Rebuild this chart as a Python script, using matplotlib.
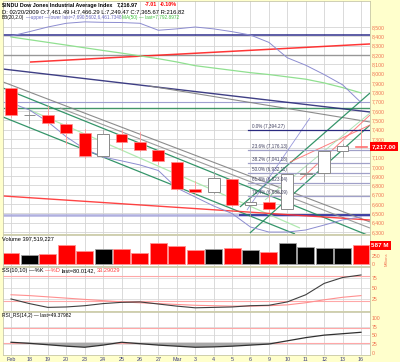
import numpy as np
import matplotlib
matplotlib.use('Agg')
import matplotlib.pyplot as plt
from matplotlib.patches import Rectangle

W, H = 400, 362
FONT = ['Liberation Sans', 'DejaVu Sans']
AX_COL = '#f07050'
GRID = '#d4d4d4'

# ---- data ----
DATES = ['Feb', '18', '19', '20', '23', '24', '25', '26', '27', 'Mar',
         '3', '4', '5', '6', '9', '10', '11', '12', '13', '16']
OPEN = [7845.6, 7552.6, 7555.2, 7461.5, 7366.0, 7115.3, 7349.6, 7269.1, 7181.0, 7056.5,
        6764.8, 6726.5, 6874.0, 6595.2, 6625.7, 6547.0, 6924.0, 6930.1, 7169.9, 7224.0]
HIGH = [7845.6, 7620.0, 7650.0, 7466.3, 7410.0, 7394.3, 7400.0, 7370.0, 7180.0, 7056.5,
        6850.0, 6960.0, 6874.0, 6680.0, 6700.0, 6930.0, 7018.0, 7170.0, 7250.0, 7416.0]
LOW = [7533.8, 7470.0, 7450.0, 7249.5, 7092.0, 7110.0, 7180.0, 7170.0, 7030.0, 6750.0,
       6705.0, 6720.0, 6580.0, 6470.0, 6517.0, 6547.0, 6880.0, 6850.0, 7110.0, 7200.0]
CLOSE = [7552.6, 7555.6, 7466.0, 7365.7, 7114.8, 7350.9, 7270.9, 7182.1, 7062.9, 6763.3,
         6726.0, 6875.8, 6594.4, 6626.9, 6547.1, 6926.5, 6930.4, 7170.1, 7224.0, 7217.0]
VOLUME = [344, 281, 312, 594, 406, 469, 469, 344, 656, 562,
          437, 469, 500, 437, 375, 656, 531, 500, 500, 587]
BB_UPPER = [8403, 8450, 8500, 8540, 8555, 8550, 8548, 8540, 8465, 8480,
            8500, 8480, 8450, 8414, 8335, 8170, 8090, 7990, 7880, 7690]
BB_LOWER = [7685, 7610, 7483, 7322, 7191, 7105, 7064, 7020, 6960, 6773,
            6676, 6580, 6499, 6354, 6300, 6300, 6322, 6375, 6430, 6462]
MA50 = [8393, 8364, 8335, 8306, 8277, 8248, 8220, 8190, 8160, 8125,
        8085, 8060, 8035, 8010, 7990, 7965, 7940, 7900, 7850, 7793]
STOCH_K = [25, 14, 5, 6, 9, 14, 17, 18, 13, 8, 4, 5, 6, 9, 10, 18, 35, 62, 76, 82]
STOCH_D = [35, 33, 30, 27, 24, 21, 18, 16, 14, 12, 10, 9, 8, 8, 9, 11, 16, 23, 29, 33]
RSI = [31, 28, 24, 20, 17, 23, 31, 27, 23, 20, 17, 18, 20, 23, 26, 35, 44, 51, 55, 59]

# user drawn lines: (day0, price0, day1, price1, colour, width)
TRENDLINES = [
    (-0.43, 8414, 19.49, 8414, '#1a1a80', 1.1),
    (-0.43, 8200, 19.49, 8200, '#909090', 1.0),
    (-0.43, 7690, 19.49, 7690, '#9a9ad0', 0.8),
    (-0.43, 7626, 19.49, 7626, '#2e8b57', 1.0),
    (-0.43, 6478, 19.49, 6478, '#a8a8dc', 1.8),
    (12.40, 6478, 19.49, 6478, '#1a1a90', 1.2),
    (1.03, 8124, 19.49, 8318, '#ff2020', 1.1),
    (-0.43, 8049, 19.49, 7588, '#2a2a78', 1.0),
    (7.50, 7867, 19.49, 7481, '#808080', 0.8),
    (-0.43, 7910, 19.49, 6408, '#808080', 0.8),
    (2.66, 7631, 19.49, 6343, '#909090', 0.8),
    (-0.43, 7845, 19.49, 6257, '#1f8a5a', 0.9),
    (-0.43, 7534, 15.42, 6279, '#1f8a5a', 0.9),
    (1.03, 7609, 15.69, 6343, '#a8e8a8', 0.9),
    (-0.43, 6687, 19.49, 6429, '#ff3030', 1.0),
    (12.43, 6569, 19.49, 7792, '#1f8a5a', 0.9),
    (12.97, 6290, 19.49, 7448, '#1f8a5a', 0.9),
    (15.69, 6858, 19.49, 7556, '#ff7070', 0.7),
    (15.15, 7051, 19.49, 7448, '#ff7070', 0.7),
    (13.79, 6644, 19.49, 7577, '#a8e0b0', 0.7),
    (12.81, 6536, 16.23, 7524, '#8c8cd8', 0.6),
]
FIB_HIGH, FIB_LOW = 7394.27, 6469.95
FIB_LEVELS = [0.0, 23.6, 38.2, 50.0, 61.8, 76.4]
FIB_START = 12.87

n = len(DATES)
days = np.arange(n)
XLIM = (-0.434, 19.49)

fig = plt.figure(figsize=(W / 100, H / 100), dpi=100)
fig.patch.set_facecolor('#ffffcc')


def panel(ytop, ybot):
    ax = fig.add_axes([3 / W, 1 - ybot / H, 367 / W, (ybot - ytop) / H])
    ax.set_facecolor('white')
    for s in ax.spines.values():
        s.set_color('#c8c8a8')
        s.set_linewidth(0.6)
    ax.set_xlim(*XLIM)
    ax.set_xticks(days)
    ax.tick_params(axis='both', length=0, pad=1.5)
    ax.yaxis.tick_right()
    ax.set_xticklabels([])
    for d in days:
        ax.axvline(d, color=GRID, lw=0.6, zorder=0)
    return ax


def right_labels(ax, ticks, labels, size=3.7):
    ax.set_yticks(ticks)
    ax.set_yticklabels(labels, fontsize=size, color=AX_COL, family=FONT)


def text_row(x_px, y_px, parts, size, weight='normal', gap=1.5):
    r = fig.canvas.get_renderer()
    x = x_px
    for s, c in parts:
        t = fig.text(x / W, 1 - y_px / H, s, color=c, fontsize=size, weight=weight,
                     va='center', ha='left', family=FONT)
        x += t.get_window_extent(renderer=r).width + gap


# ---- main price panel ----
ax = panel(1, 234)
ax.set_ylim(6279, 8779)
levels = np.arange(6300, 8501, 100)
for lv in levels:
    ax.axhline(lv, color=GRID, lw=0.6, zorder=0)
# the last-price tag sits where the 7,200 label would be
right_labels(ax, levels, ['' if v == 7200 else f'{v:,}' for v in levels])

for x0, p0, x1, p1, c, lw in TRENDLINES:
    ax.plot([x0, x1], [p0, p1], color=c, lw=lw, zorder=2, alpha=0.9, solid_capstyle='butt')

ax.plot(days, MA50, color='#90e090', lw=0.9, zorder=2)
ax.plot(days, BB_UPPER, color='#8c8cd0', lw=0.7, zorder=2)
ax.plot(days, BB_LOWER, color='#8c8cd0', lw=0.7, zorder=2)

rng = FIB_HIGH - FIB_LOW
for lv in FIB_LEVELS:
    p = FIB_HIGH - rng * lv / 100
    col = '#2a2a80' if lv == 0 else '#a0a0c8'
    ax.plot([FIB_START, XLIM[1]], [p, p], color=col, lw=0.9, zorder=2)
    ax.text(FIB_START + 0.2, p + 12, f'{lv:.1f}% ({p:,.2f})', fontsize=3.3,
            color='#404060', family=FONT, va='bottom', ha='left', zorder=4)

bw = 0.64
for i in range(n):
    o, h, l, c = OPEN[i], HIGH[i], LOW[i], CLOSE[i]
    down = c < o
    wick = '#ff9a9a' if down else '#a0a0a0'
    ax.plot([i, i], [l, h], color=wick, lw=0.6, zorder=3)
    lo, hi = min(o, c), max(o, c)
    if down:
        ax.add_patch(Rectangle((i - bw / 2, lo), bw, max(hi - lo, 8), facecolor='#ff0000',
                               edgecolor='#ff8c8c', lw=0.5, zorder=3))
    else:
        ax.add_patch(Rectangle((i - bw / 2, lo), bw, max(hi - lo, 8), facecolor='white',
                               edgecolor='#8a8a8a', lw=0.7, zorder=3))

# last price tag
ax.text(1.004, CLOSE[-1], f'{CLOSE[-1]:,.2f}', transform=ax.get_yaxis_transform(),
        fontsize=4.5, color='white', weight='bold', family=FONT, va='center', ha='left',
        bbox=dict(boxstyle='square,pad=0.3', fc='#ff0000', ec='none'), zorder=6,
        clip_on=False)

text_row(2, 5, [('$INDU Dow Jones Industrial Average Index', 'black'),
                ('7,216.97', 'black')], 3.9, 'bold', gap=4)
text_row(145, 5, [('-7.01', '#ff0000'), ('-0.10%', '#ff0000')], 3.9, 'bold', gap=3)
text_row(2, 11.5, [('D: 02/20/2009 O:7,461.49 H:7,466.29 L:7,249.47 C:7,365.67 R:216.82', 'black')],
         4.2)
text_row(2, 17.5, [('BB(20,2.0)', 'black'), ('\u2014upper \u2014lower last=7,690.5602,6,461.7348', '#6a6ac0'),
                   ('MA(50) \u2014 last=7,792.8972', '#40c040')], 3.4, gap=1.2)

# ---- volume panel ----
av = panel(235, 266)
av.set_ylim(-62, 906)
ups = [False] + [CLOSE[i] > CLOSE[i - 1] for i in range(1, n)]
av.bar(days, VOLUME, width=0.92, color=['black' if u else '#ff0000' for u in ups],
       edgecolor=['#a0a0a0' if u else '#ff9090' for u in ups], lw=0.6, zorder=2)
right_labels(av, [0, 250], ['0', '250'])
av.text(1.004, VOLUME[-1], f'{VOLUME[-1]} M', transform=av.get_yaxis_transform(),
        fontsize=4.5, color='white', weight='bold', family=FONT, va='center', ha='left',
        bbox=dict(boxstyle='square,pad=0.3', fc='#ff0000', ec='none'), zorder=6, clip_on=False)
av.text(1.04, 370, 'Millions', transform=av.get_yaxis_transform(), rotation=90,
        fontsize=3.0, color=AX_COL, family=FONT, va='top', ha='left')
fig.text(2 / W, 1 - 238.5 / H, 'Volume 397,519,227', fontsize=4.1, family=FONT, va='center')

# ---- stochastics panel ----
ast = panel(267, 311)
ast.set_ylim(-3.6, 101)
for lv in (25, 50, 75):
    ast.axhline(lv, color=GRID, lw=0.5, zorder=0)
for lv in (80, 20):
    ast.axhline(lv, color='#ffa8a8', lw=0.8, zorder=1)
ast.plot(days, STOCH_D, color='#ff9090', lw=0.8, zorder=2)
ast.plot(days, STOCH_K, color='#404040', lw=0.8, zorder=3)
right_labels(ast, [25, 50, 75], ['25', '50', '75'])
text_row(2, 270.5, [('SS(10,10) \u2014%K', 'black'), ('\u2014%D', '#ff4040'),
                    ('last=80.0142,', 'black'), ('33.29029', '#ff4040')], 4.1, gap=1.4)

# ---- RSI panel ----
ar = panel(312, 355)
ar.set_ylim(-4.8, 116)
for lv in (25, 50, 75):
    ar.axhline(lv, color=GRID, lw=0.5, zorder=0)
for lv in (70, 30):
    ar.axhline(lv, color='#ffa8a8', lw=0.8, zorder=1)
rsi = np.array(RSI, dtype=float)
ar.fill_between(days, rsi, 30, where=rsi < 30, interpolate=True, color='#a8a8a8', lw=0, zorder=2)
ar.plot(days, rsi, color='#303030', lw=0.9, zorder=3)
right_labels(ar, [0, 25, 50, 75, 100], ['0', '25', '50', '75', '100'])
text_row(2, 315.5, [('RSI_RS(14,2) \u2014 last=49.37982', 'black')], 3.5)

ar.set_xticklabels(DATES, fontsize=3.9, color='#404080', family=FONT)
ar.tick_params(axis='x', pad=1.2)

fig.savefig('out.png', dpi=100, facecolor=fig.get_facecolor())
